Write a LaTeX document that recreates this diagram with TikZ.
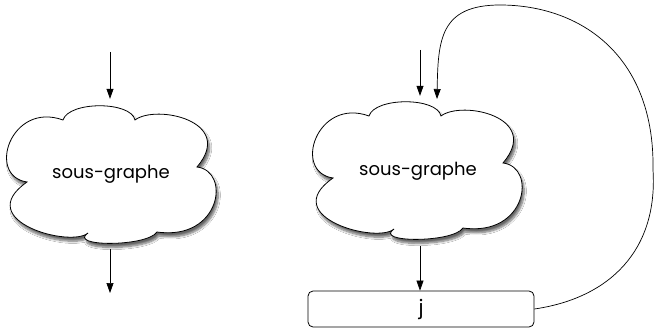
\documentclass[tikz,border=0pt]{standalone}
\usepackage{fontspec}
\setmainfont{Poppins}
\usetikzlibrary{positioning}
\usetikzlibrary{shadows.blur,arrows.meta}
\tikzstyle{nuage} = [draw=black, line width=0.8pt, fill=white, blur shadow={shadow xshift=2pt, shadow yshift=-4pt, shadow blur steps=8, shadow opacity=60}]
\tikzstyle{etiquette} = [inner sep=0pt, minimum width=206pt, minimum height=150pt, font=\fontsize{18}{20}\selectfont]
\tikzstyle{boite} = [rectangle, rounded corners=5pt, draw=black, line width=0.8pt, fill=white, minimum width=226pt, minimum height=36pt, font=\fontsize{20}{22}\selectfont]
\tikzstyle{arrow} = [line width=0.7pt, -{Triangle[length=10pt,width=7pt]}]
\tikzset{cloudpic/.pic={
      \draw[nuage] (-48,-56) .. controls (-42,-75) and (20,-75) .. (24,-56)
            .. controls (45,-72) and (125,-55) .. (86,-9)
            .. controls (120,-5) and (110,65) .. (46,56)
            .. controls (36,71) and (-44,71) .. (-23,57)
            .. controls (-40,72) and (-140,45) .. (-84,6)
            .. controls (-125,0) and (-100,-75) .. (-48,-56) -- cycle;
}}

\begin{document}
\begin{tikzpicture}[x=1pt,y=-1pt]
      \useasboundingbox (0,0) rectangle (655,329);
      \fill[white] (0,0) rectangle (655,329);
      %%%%%%%%%%%%%%%%%%%%%%%%%%%%%%%%%%%%%%%
      \pic at (111,176) {cloudpic};
      \node (s1) [etiquette] at (111,174) {sous-graphe};
      \coordinate (in1) at (110,52);
      \coordinate (out1) at (110,293);
      \draw[arrow] (in1) -- (in1 |- s1.north);
      \draw[arrow] (out1 |- s1.south) -- (out1);
      %%%%%%%%%%%%%%%%%%%%%%%%%%%%%%%%%%%%%%%
      \pic at (417,172) {cloudpic};
      \node (s2) [etiquette] at (418,171) {sous-graphe};
      \node (j) [boite] at (421,309) {j};
      \coordinate (in2) at (420,50);
      \coordinate (back) at (437,99);
      \draw[arrow] (in2) -- (in2 |- s2.north);
      \draw[arrow] (s2.south -| in2) -- (j.north -| in2);
      \draw[arrow] (j.east) .. controls (610,298) and (658,250) .. (653,170)
            .. controls (655,55) and (580,5) .. (500,5)
            .. controls (440,5) and (438,40) .. (back);
\end{tikzpicture}
\end{document}
